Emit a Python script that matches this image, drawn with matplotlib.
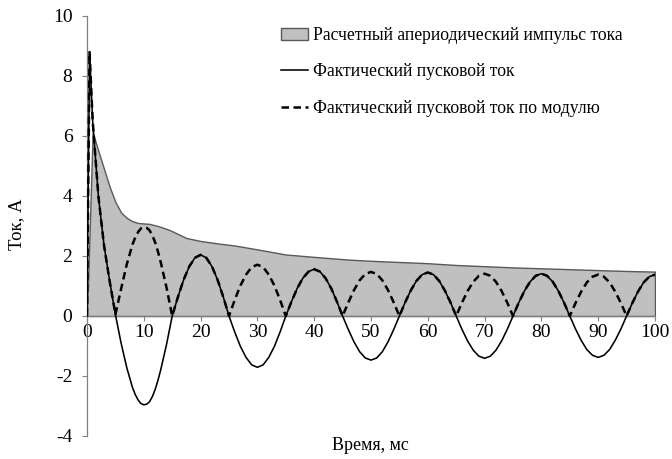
import matplotlib
matplotlib.use("Agg")
import matplotlib.pyplot as plt
import numpy as np

plt.rcParams['font.family'] = ['Liberation Serif', 'DejaVu Serif']
plt.rcParams['axes.unicode_minus'] = False

# Time axis of the measured current, ms
time_ms = [0, 0.45, 1, 2, 3, 4, 5, 6, 7, 8, 8.5, 9, 9.5, 10, 10.5, 11, 11.5, 12, 12.5,
           13, 14, 15,
           16, 17, 18, 19, 20, 21, 22, 23, 24, 25, 26, 27, 28, 29, 30,
           31, 32, 33, 34, 35, 36, 37, 38, 39, 40, 41, 42, 43, 44, 45,
           46, 47, 48, 49, 50, 51, 52, 53, 54, 55, 56, 57, 58, 59, 60,
           61, 62, 63, 64, 65, 66, 67, 68, 69, 70, 71, 72, 73, 74, 75,
           76, 77, 78, 79, 80, 81, 82, 83, 84, 85, 86, 87, 88, 89, 90,
           91, 92, 93, 94, 95, 96, 97, 98, 99, 100]

# Measured inrush current, A
inrush_current = [0, 8.8, 6.5, 4.0, 2.35, 1.15, 0.05, -0.90, -1.72, -2.38, -2.62, -2.80,
                  -2.92, -2.96, -2.94, -2.86, -2.69, -2.45, -2.14,
                  -1.78, -0.95, 0.0,
                  0.63, 1.20, 1.65, 1.94, 2.04, 1.94, 1.65, 1.20, 0.63, 0.0,
                  -0.53, -1.01, -1.38, -1.63, -1.71, -1.63, -1.38, -1.01, -0.53, 0.0,
                  0.48, 0.92, 1.26, 1.48, 1.56, 1.48, 1.26, 0.92, 0.48, 0.0,
                  -0.45, -0.86, -1.19, -1.40, -1.47, -1.40, -1.19, -0.86, -0.45, 0.0,
                  0.45, 0.85, 1.17, 1.38, 1.45, 1.38, 1.17, 0.85, 0.45, 0.0,
                  -0.44, -0.83, -1.14, -1.34, -1.41, -1.34, -1.14, -0.83, -0.44, 0.0,
                  0.44, 0.83, 1.14, 1.34, 1.41, 1.34, 1.14, 0.83, 0.44, 0.0,
                  -0.43, -0.81, -1.12, -1.31, -1.38, -1.31, -1.12, -0.81, -0.43, 0.0,
                  0.43, 0.81, 1.12, 1.31, 1.38]

# Calculated aperiodic current pulse (envelope), A
env_time_ms = [0, 1.0, 2, 3, 4, 5, 6, 7, 8, 9, 11, 12.5, 14.5, 17.5, 20, 23, 26,
               30, 35, 40, 46, 50, 55, 60, 65, 70, 75, 80, 85, 90, 95, 100]
env_current = [0, 6.12, 5.5, 4.9, 4.3, 3.8, 3.45, 3.27, 3.16, 3.1, 3.07, 3.0,
               2.87, 2.6, 2.5, 2.42, 2.35, 2.22, 2.05, 1.97, 1.88, 1.84, 1.80, 1.76,
               1.70, 1.66, 1.62, 1.59, 1.56, 1.53, 1.50, 1.48]

x_ticks = [0, 10, 20, 30, 40, 50, 60, 70, 80, 90, 100]
y_ticks = [-4, -2, 0, 2, 4, 6, 8, 10]

labels = ['Расчетный апериодический импульс тока',
          'Фактический пусковой ток',
          'Фактический пусковой ток по модулю']

fig = plt.figure(figsize=(6.72, 4.59), dpi=100)
ax = fig.add_axes([87 / 672, 1 - 436 / 459, (655 - 87) / 672, (436 - 16) / 459])

area = ax.fill_between(env_time_ms, 0, env_current, facecolor='#C0C0C0',
                       edgecolor='#595959', linewidth=1.0, zorder=1)
solid, = ax.plot(time_ms, inrush_current, color='black', linewidth=1.15, zorder=3)
dashed, = ax.plot(time_ms, np.abs(inrush_current), color='black', linewidth=1.8,
                  linestyle=(0, (3.0, 1.8)), zorder=4)

ax.set_xlim(0, 100)
ax.set_ylim(-4, 10)
ax.set_xticks(x_ticks)
ax.set_yticks(y_ticks)

for side in ('top', 'right'):
    ax.spines[side].set_visible(False)
ax.spines['bottom'].set_position(('data', 0))
for side in ('left', 'bottom'):
    ax.spines[side].set_color('#808080')
    ax.spines[side].set_linewidth(0.9)

ax.tick_params(axis='both', colors='#808080', labelcolor='black', labelsize=14,
               direction='out', length=3.5, width=0.8)
ax.tick_params(axis='y', pad=7)
ax.tick_params(axis='x', pad=2)

fig.text(17 / 672, 1 - 224 / 459, 'Ток, А', rotation=90, ha='center', va='center',
         fontsize=13.5)
fig.text(370 / 672, 1 - 445 / 459, 'Время, мс', ha='center', va='center', fontsize=13)

leg = fig.legend([area, solid, dashed], labels, loc='upper left',
                 bbox_to_anchor=(274 / 672, 1 - 20 / 459), frameon=False,
                 fontsize=12.7, handlelength=1.55, handletextpad=0.28,
                 labelspacing=1.1, borderaxespad=0)

fig.savefig('out.png', dpi=100)
